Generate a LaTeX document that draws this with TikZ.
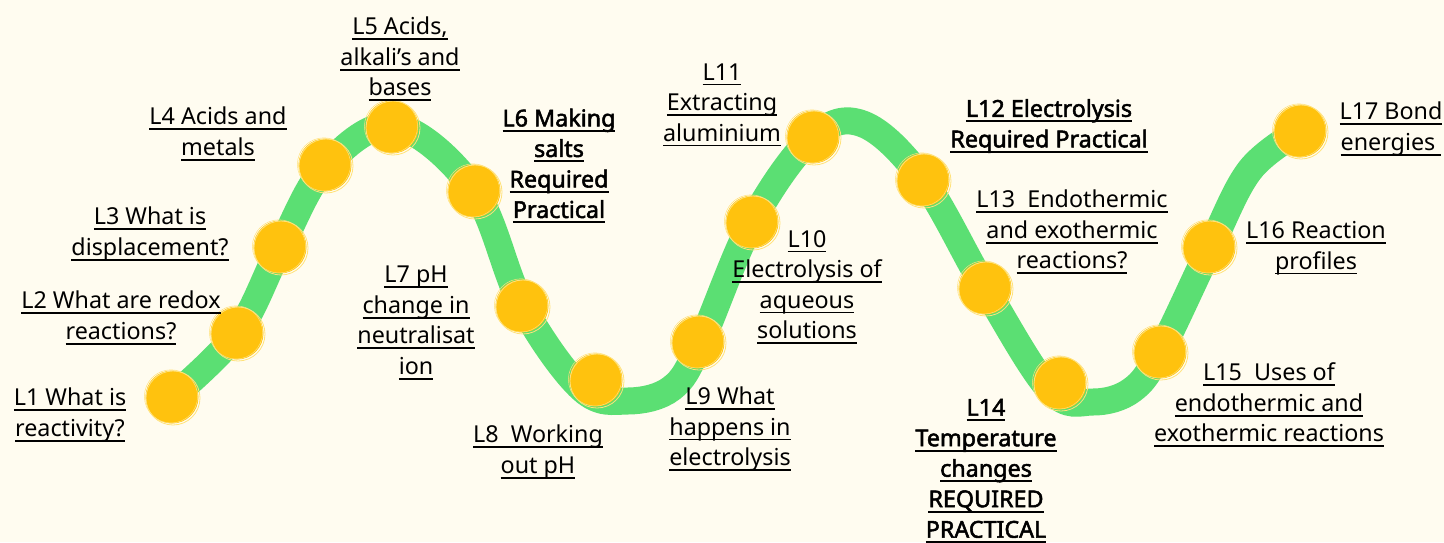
\documentclass[tikz,border=0pt]{standalone}
\usepackage{fontspec}
\setmainfont{Noto Sans}[AutoFakeBold=2.2]
\newcommand{\undr}[1]{\setbox0=\hbox{#1}\leavevmode\rlap{\vrule width\wd0 height -3.5pt depth 5.3pt}\box0}
\definecolor{paper}{HTML}{FFFCF0}
\definecolor{track}{HTML}{5BDF73}
\definecolor{sun}{HTML}{FFC20E}
\definecolor{sunlight}{HTML}{FFE27A}
\tikzstyle{lesson}=[
    circle,
    fill = sun,
    minimum size = 53pt,
    inner sep = 0pt
]
\tikzstyle{topic}=[
    align = center,
    inner sep = 0pt,
    font = \fontsize{23.3}{30.5}\selectfont
]

\begin{document}
\begin{tikzpicture}[x=1pt, y=-1pt, scribble/.style = {sunlight, line width=0.8pt}, strong/.style = {font=\fontsize{23.3}{30.5}\selectfont\bfseries}]
        \fill[paper] (0,0) rectangle (1444,542);
        \useasboundingbox (0,0) rectangle (1444,542);

        % green track
        \draw[track, line width=27pt, line cap=round] plot[smooth, tension=0.6] coordinates {
            (170,399) (237,333) (280,248) (326,166) (395,126) (474,190) (522,305)
            (582,389) (628,401) (672,388) (700,344) (752,222) (812,138) (863,124) (923,180)
            (985,288) (1050,390) (1093,402) (1132,390) (1160,352) (1210,248) (1250,170) (1300,131)};

        % lessons
        \node[lesson] (1) at (172,397) {};
        \node[lesson] (2) at (237,333) {};
        \node[lesson] (3) at (280,247) {};
        \node[lesson] (4) at (325,165) {};
        \node[lesson] (5) at (392,127) {};
        \node[lesson] (6) at (474,191) {};
        \node[lesson] (7) at (522,306) {};
        \node[lesson] (8) at (596,380) {};
        \node[lesson] (9) at (698,342) {};
        \node[lesson] (10) at (752,222) {};
        \node[lesson] (11) at (813,137) {};
        \node[lesson] (12) at (923,180) {};
        \node[lesson] (13) at (985,288) {};
        \node[lesson] (14) at (1060,383) {};
        \node[lesson] (15) at (1160,352) {};
        \node[lesson] (16) at (1209,247) {};
        \node[lesson] (17) at (1300,131) {};
        \foreach \n in {1,...,17}{
            \draw[scribble] ([xshift=1pt, yshift=-1pt]\n.center) circle[radius=27];
            \draw[scribble, line width=0.5pt] ([xshift=-1pt, yshift=0.6pt]\n.center) circle[radius=26.6];
        }

        % labels
        \node[topic] (t1) at (70,415) {\undr{L1 What is}\\\undr{reactivity?}};
        \node[topic] (t2) at (121,318) {\undr{L2 What are redox}\\\undr{reactions?}};
        \node[topic] (t3) at (150,234) {\undr{L3 What is}\\\undr{displacement?}};
        \node[topic] (t4) at (218,134) {\undr{L4 Acids and}\\\undr{metals}};
        \node[topic] (t5) at (400,59) {\undr{L5 Acids,}\\\undr{alkali’s and}\\\undr{bases}};
        \node[topic, strong] (t6) at (559,166) {\undr{L6 Making}\\\undr{salts}\\\undr{Required}\\\undr{Practical}};
        \node[topic] (t7) at (416,323) {\undr{L7 pH}\\\undr{change in}\\\undr{neutralisat}\\\undr{ion}};
        \node[topic] (t8) at (538,452) {\undr{L8\ \ Working}\\\undr{out pH}};
        \node[topic] (t9) at (730,429) {\undr{L9 What}\\\undr{happens in}\\\undr{electrolysis}};
        \node[topic] (t10) at (807,287) {\undr{L10}\\\undr{Electrolysis of}\\\undr{aqueous}\\\undr{solutions}};
        \node[topic] (t11) at (722,105) {\undr{L11}\\\undr{Extracting}\\\undr{aluminium}};
        \node[topic, strong] (t12) at (1049,126) {\undr{L12 Electrolysis}\\\undr{Required Practical}};
        \node[topic] (t13) at (1072,232) {\undr{L13\ \ Endothermic}\\\undr{and exothermic}\\\undr{reactions?}};
        \node[topic, strong] (t14) at (986,471) {\undr{L14}\\\undr{Temperature}\\\undr{changes}\\\undr{REQUIRED}\\\undr{PRACTICAL}};
        \node[topic] (t15) at (1269,405) {\undr{L15\ \ Uses of}\\\undr{endothermic and}\\\undr{exothermic reactions}};
        \node[topic] (t16) at (1316,248) {\undr{L16 Reaction}\\\undr{profiles}};
        \node[topic] (t17) at (1391,129) {\undr{L17 Bond}\\\undr{energies\ }};

    \end{tikzpicture}
\end{document}
